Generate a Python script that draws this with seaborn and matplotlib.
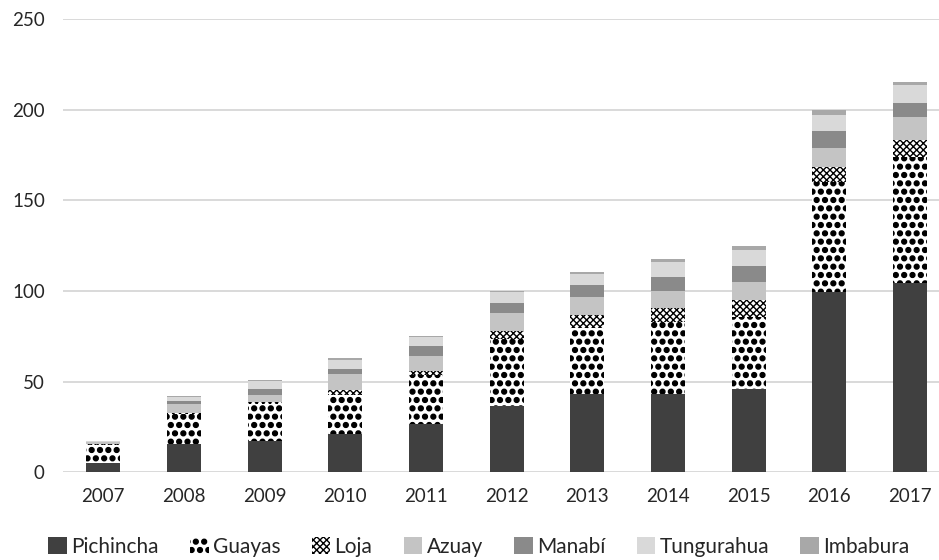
import matplotlib
matplotlib.use("Agg")
import matplotlib.pyplot as plt
import matplotlib.hatch as mhatch
from matplotlib.patches import Patch
import numpy as np
import pandas as pd
import seaborn as sns

# Years on the x axis
years = ["2007", "2008", "2009", "2010", "2011", "2012",
         "2013", "2014", "2015", "2016", "2017"]

# Stacked series, bottom to top
pichincha  = [5.0, 15.6, 17.3, 21.0, 26.6, 36.6, 43.2, 43.2, 45.8, 99.2, 104.5]
guayas     = [10.1, 16.4, 20.2, 21.5, 26.9, 36.8, 36.6, 39.8, 40.0, 61.0, 69.5]
loja       = [0.3, 0.9, 1.5, 3.1, 2.4, 4.6, 6.8, 7.7, 9.2, 8.3, 9.3]
azuay      = [1.2, 4.8, 3.5, 8.4, 8.3, 9.9, 10.2, 9.3, 10.1, 10.5, 12.8]
manabi     = [0.3, 1.6, 3.3, 2.8, 5.3, 5.5, 6.4, 7.8, 8.8, 9.2, 7.8]
tungurahua = [0.3, 2.0, 4.6, 5.4, 5.2, 5.8, 6.2, 8.1, 8.7, 8.8, 9.6]
imbabura   = [0.3, 0.9, 0.6, 0.9, 0.5, 0.8, 1.0, 1.6, 2.2, 2.8, 1.5]

y_ticks = [0, 50, 100, 150, 200, 250]

series = [
    ("Pichincha", pichincha, "#404040", None),
    ("Guayas", guayas, "white", ".."),
    ("Loja", loja, "white", "xxxxx"),
    ("Azuay", azuay, "#c4c4c4", None),
    ("Manabí", manabi, "#8a8a8a", None),
    ("Tungurahua", tungurahua, "#d9d9d9", None),
    ("Imbabura", imbabura, "#a8a8a8", None),
]

# Bigger filled dots for the "." hatch
mhatch.SmallFilledCircles.size = 0.29

sns.set_theme(style="white")
plt.rcParams["font.family"] = ["Lato", "DejaVu Sans"]
plt.rcParams["hatch.linewidth"] = 1.0
text_color = "#262626"

fig = plt.figure(figsize=(9.39, 5.6), dpi=100)
ax = fig.add_axes([0.067, 0.1566, 0.933, 0.8094])

bottom = np.zeros(len(years))
handles = []
for name, vals, color, hatch in series:
    df = pd.DataFrame({"year": years, "value": vals})
    sns.barplot(data=df, x="year", y="value", bottom=bottom, color=color,
                saturation=1, errorbar=None, width=0.42, ax=ax,
                edgecolor="black" if hatch else color,
                linewidth=0, hatch=hatch, zorder=3)
    bottom = bottom + np.array(vals)
    handles.append(Patch(facecolor=color, edgecolor="black" if hatch else color,
                         linewidth=0, hatch=hatch, label=name))

ax.set_ylim(0, 250)
ax.set_xlim(-0.5, 10.36)
ax.set_yticks(y_ticks)
ax.set_xlabel("")
ax.set_ylabel("")
ax.yaxis.grid(True, color="#d9d9d9", linewidth=1.4, zorder=0)
ax.set_axisbelow(True)
for s in ax.spines.values():
    s.set_visible(False)
ax.tick_params(axis="both", length=0, labelsize=13.5, colors=text_color)
ax.tick_params(axis="y", pad=13)
ax.tick_params(axis="x", pad=11)

fig.legend(handles=handles, loc="lower center", bbox_to_anchor=(0.51, -0.028),
           ncol=7, frameon=False, fontsize=15, handlelength=0.9,
           handleheight=0.9, handletextpad=0.2, columnspacing=1.5,
           labelcolor=text_color)

fig.savefig("out.png", dpi=100)
